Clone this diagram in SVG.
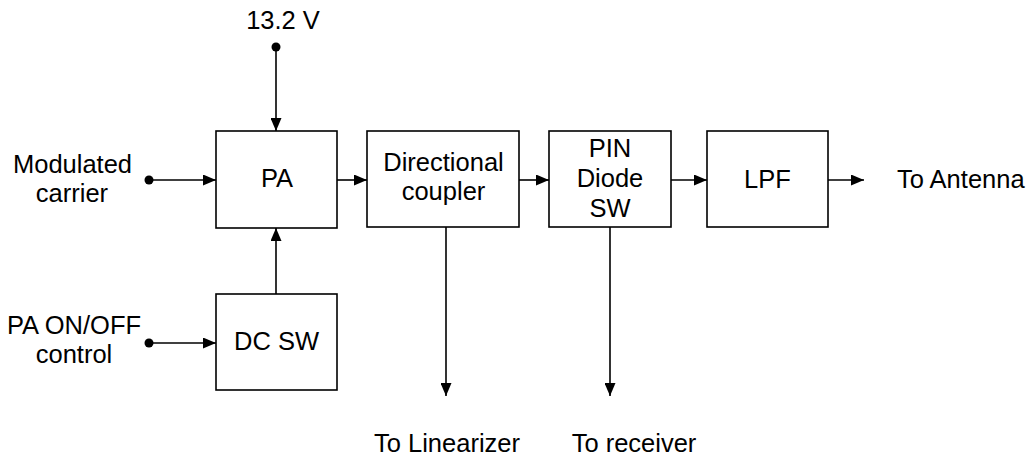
<svg xmlns="http://www.w3.org/2000/svg" width="1035" height="457" viewBox="0 0 1035 457">
<style>
.box{fill:#fff;stroke:#000;stroke-width:1.6}
.ln{fill:none;stroke:#000;stroke-width:1.6}
text{font-family:"Liberation Sans",Arial,sans-serif;font-size:25.5px;fill:#000}
.c{text-anchor:middle}
</style>
<defs>
<marker id="ah" markerWidth="13" markerHeight="11" refX="13" refY="5.5" orient="auto" markerUnits="userSpaceOnUse">
<path d="M0,0 L13,5.5 L0,11 Z" fill="#000"/>
</marker>
</defs>
<rect width="1035" height="457" fill="#fff"/>
<g id="connectors">
<line class="ln" x1="276" y1="47" x2="276" y2="131" marker-end="url(#ah)"/>
<line class="ln" x1="149" y1="180" x2="216" y2="180" marker-end="url(#ah)"/>
<line class="ln" x1="337" y1="180" x2="367" y2="180" marker-end="url(#ah)"/>
<line class="ln" x1="519" y1="180" x2="549" y2="180" marker-end="url(#ah)"/>
<line class="ln" x1="671" y1="180" x2="707" y2="180" marker-end="url(#ah)"/>
<line class="ln" x1="828" y1="180" x2="864" y2="180" marker-end="url(#ah)"/>
<line class="ln" x1="276" y1="294" x2="276" y2="228" marker-end="url(#ah)"/>
<line class="ln" x1="149" y1="343" x2="216" y2="343" marker-end="url(#ah)"/>
<line class="ln" x1="446" y1="227" x2="446" y2="396" marker-end="url(#ah)"/>
<line class="ln" x1="610" y1="227" x2="610" y2="396" marker-end="url(#ah)"/>
<circle cx="276" cy="47" r="4.5"/>
<circle cx="149" cy="180" r="4.5"/>
<circle cx="149" cy="343" r="4.5"/>
</g>
<g id="pa">
<rect class="box" x="216" y="131" width="121" height="97"/>
<text class="c" x="277" y="187">PA</text>
</g>
<g id="coupler">
<rect class="box" x="367" y="131" width="152" height="96"/>
<text class="c" x="443.5" y="171">Directional</text>
<text class="c" x="443.5" y="200">coupler</text>
</g>
<g id="pin">
<rect class="box" x="549" y="131" width="122" height="96"/>
<text class="c" x="610" y="157">PIN</text>
<text class="c" x="610" y="187">Diode</text>
<text class="c" x="610" y="217">SW</text>
</g>
<g id="lpf">
<rect class="box" x="707" y="131" width="121" height="96"/>
<text class="c" x="767.5" y="188">LPF</text>
</g>
<g id="dcsw">
<rect class="box" x="216" y="294" width="121" height="96"/>
<text class="c" x="276.5" y="350">DC SW</text>
</g>
<g id="labels">
<text class="c" x="283" y="29">13.2 V</text>
<text class="c" x="72.5" y="173">Modulated</text>
<text class="c" x="72" y="202">carrier</text>
<text class="c" x="74" y="334">PA ON/OFF</text>
<text class="c" x="74" y="363">control</text>
<text x="897" y="188">To Antenna</text>
<text class="c" x="447" y="452">To Linearizer</text>
<text class="c" x="634" y="452">To receiver</text>
</g>
</svg>
